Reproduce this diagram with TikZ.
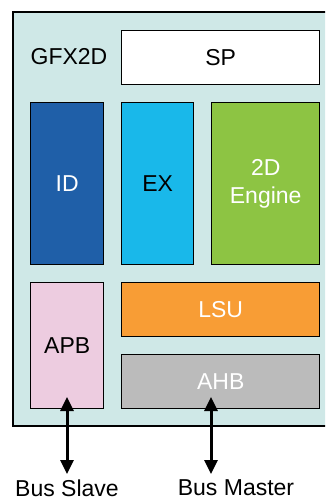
\documentclass[tikz,border=0pt]{standalone}
\usepackage{fontspec}
\setmainfont{Liberation Sans}
\usetikzlibrary{arrows.meta}
\definecolor{bgteal}{HTML}{CFE8E7}
\definecolor{idblue}{HTML}{1F5FA8}
\definecolor{excyan}{HTML}{19B8EA}
\definecolor{enggreen}{HTML}{8DC443}
\definecolor{lsuorange}{HTML}{F89D35}
\definecolor{ahbgray}{HTML}{BBBBBB}
\definecolor{apbpink}{HTML}{EDCCE0}
\tikzset{
  blk/.style={draw=black, line width=1.4pt, inner sep=0pt, anchor=north west,
    font=\fontsize{23}{28}\selectfont, align=center},
  lbl/.style={font=\fontsize{23}{28}\selectfont, inner sep=0pt},
  bus/.style={line width=3pt, {Triangle[width=13pt,length=14pt]}-{Triangle[width=13pt,length=14pt]}}
}
\begin{document}
\begin{tikzpicture}[x=1pt,y=-1pt]
\useasboundingbox (0,0) rectangle (325,500);
\clip (0,0) rectangle (325,500);
\draw[fill=bgteal, line width=1.6pt] (13,12) rectangle (345,426);
\node[lbl] (gfx) at (69,57) {GFX2D};
\node[blk, fill=white, minimum width=198pt, minimum height=54pt] (sp) at (121,30) {SP};
\node[blk, fill=idblue, text=white, minimum width=73pt, minimum height=162pt] (id) at (30,102) {ID};
\node[blk, fill=excyan, text=black, minimum width=72pt, minimum height=162pt] (ex) at (121,102) {EX};
\node[blk, fill=enggreen, text=white, minimum width=108pt, minimum height=162pt] (eng) at (211,102) {2D\\Engine};
\node[blk, fill=apbpink, text=black, minimum width=73pt, minimum height=126pt] (apb) at (30,282) {APB};
\node[blk, fill=lsuorange, text=white, minimum width=198pt, minimum height=54pt] (lsu) at (121,282) {LSU};
\node[blk, fill=ahbgray, text=white, minimum width=198pt, minimum height=54pt] (ahb) at (121,354) {AHB};
\node[lbl] (bs) at (67,488) {Bus Slave};
\node[lbl] (bm) at (236,488) {Bus Master};
\coordinate (apbin) at (67,397);
\coordinate (ahbin) at (211,397);
\coordinate (bsend) at (67,474);
\coordinate (bmend) at (211,474);
\draw[bus] (apbin) -- (bsend);
\draw[bus] (ahbin) -- (bmend);
\end{tikzpicture}
\end{document}
